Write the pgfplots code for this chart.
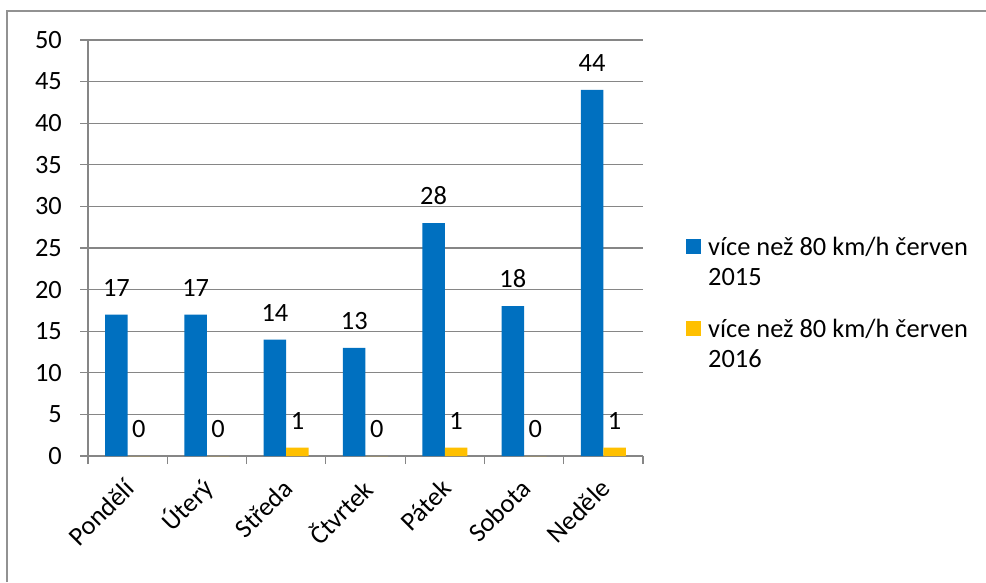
\documentclass[border=0pt]{standalone}
\usepackage{pgfplots}
\pgfplotsset{compat=1.18}
\usepackage{fontspec}
\setmainfont{Carlito}
\definecolor{bblue}{HTML}{0070C0}
\definecolor{byellow}{HTML}{FFC000}
\definecolor{gridgray}{HTML}{868686}
\newcommand{\cf}{\fontsize{26.4}{30}\selectfont}
\begin{document}
\begin{tikzpicture}[x=1pt,y=1pt]
\path[use as bounding box] (0,0) rectangle (986,582);
\fill[white] (0,0) rectangle (986,582);
\draw[gridgray!90, line width=2pt] (7,0) -- (7,571) -- (987,571);
\begin{axis}[
  at={(88pt,126pt)}, anchor=south west,
  scale only axis, width=555pt, height=416pt,
  ymin=0, ymax=50, ytick={0,5,...,50},
  xmin=-0.5, xmax=6.5,
  xtick={-0.5,0.5,...,6.5},
  x tick label as interval,
  xticklabels={Pondělí, Úterý, Středa, Čtvrtek, Pátek, Sobota, Neděle},
  axis x line*=bottom, axis y line*=left,
  axis line style={gridgray, line width=1.2pt, -},
  tick align=outside,
  major tick length=8pt,
  tick style={gridgray, line width=1.2pt},
  ymajorgrids=true,
  major grid style={gridgray, line width=1.2pt},
  ticklabel style={font=\cf, text=black},
  yticklabel style={inner sep=0pt, xshift=-18pt},
  xticklabel shift=22pt,
  xticklabel style={rotate=45, anchor=east, inner sep=0pt, xshift=3pt},
  /pgf/number format/assume math mode=true,
  ybar=0pt, bar width=22.5pt,
  nodes near coords,
  every node near coord/.append style={font=\cf, text=black, anchor=base, inner sep=0pt, yshift=18.5pt},
  legend style={draw=none, fill=none, at={(1.0775,0.532)}, anchor=north west,
    font=\cf, row sep=59pt, column sep=7pt, inner sep=0pt, nodes={inner sep=0pt}},
  legend cell align=left,
  legend image code/.code={\fill[#1] (0pt,-8pt) rectangle (15pt,7pt);},
]
\addplot[fill=bblue, draw=none] coordinates {(0,17) (1,17) (2,14) (3,13) (4,28) (5,18) (6,44)};
\addplot[fill=byellow, draw=none] coordinates {(0,0) (1,0) (2,1) (3,0) (4,1) (5,0) (6,1)};
\legend{{\begin{tabular}[t]{@{}l@{}}více než 80 km/h červen\\2015\end{tabular}},
        {\begin{tabular}[t]{@{}l@{}}více než 80 km/h červen\\2016\end{tabular}}}
\end{axis}
\end{tikzpicture}
\end{document}
